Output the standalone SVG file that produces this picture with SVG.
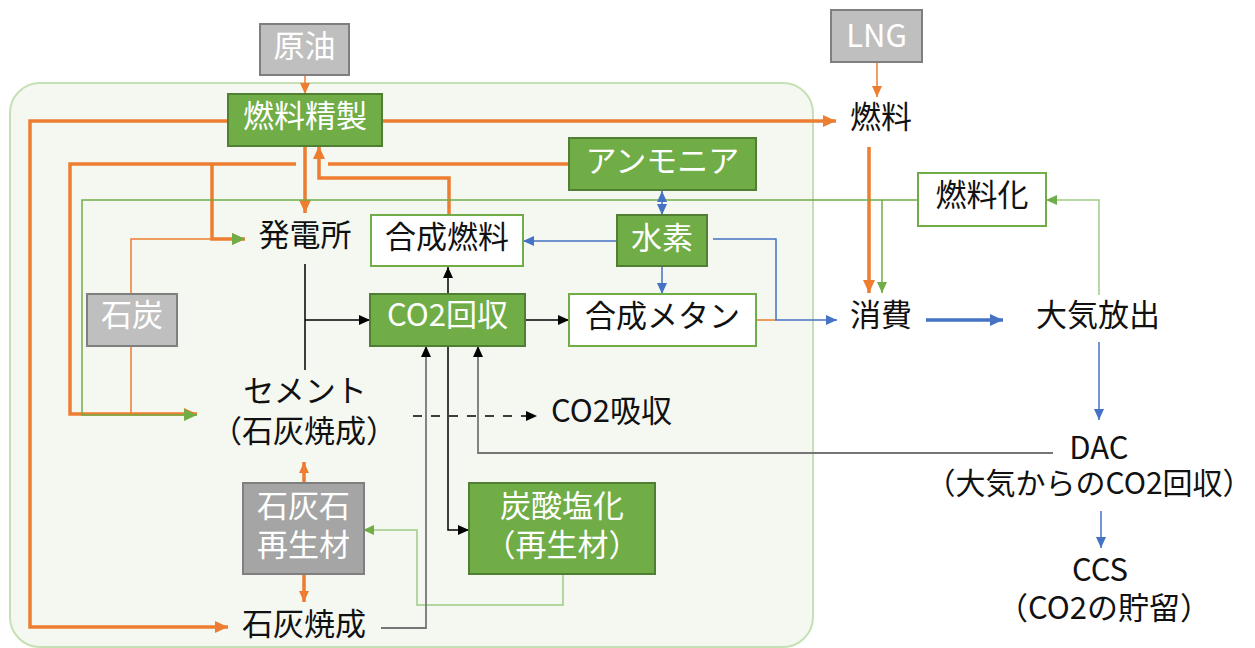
<svg xmlns="http://www.w3.org/2000/svg" width="1255" height="648" viewBox="0 0 1255 648">
<style>
text{font-family:"Noto Sans CJK JP","Noto Sans",sans-serif;font-size:31px;fill:#111;text-anchor:middle}
.w{fill:#fff}
.gbox{fill:#70ad47;stroke:#507e32;stroke-width:2}
.wbox{fill:#fff;stroke:#70ad47;stroke-width:2}
.grey{fill:#bfbfbf;stroke:#7f7f7f;stroke-width:2}
.dgrey{fill:#a5a5a5;stroke:#7f7f7f;stroke-width:2}
.c{fill:none}
.oT{stroke:#ed7d31;stroke-width:3.5}
.ot{stroke:#ed7d31;stroke-width:1.5}
.g{stroke:#70ad47;stroke-width:1.5}
.gl{stroke:#9fcc84;stroke-width:1.5}
.b{stroke:#4472c4;stroke-width:1.5}
.bT{stroke:#4472c4;stroke-width:3.5}
.k{stroke:#000;stroke-width:1.5}
.gr{stroke:#767676;stroke-width:1.8}
</style>
<defs>
<marker id="aO" markerUnits="userSpaceOnUse" markerWidth="14" markerHeight="14" refX="13" refY="7" orient="auto"><path d="M0,1 L13,7 L0,13 z" fill="#ed7d31"/></marker>
<marker id="aOs" markerUnits="userSpaceOnUse" markerWidth="12" markerHeight="12" refX="11" refY="6" orient="auto"><path d="M0,1 L11,6 L0,11 z" fill="#ed7d31"/></marker>
<marker id="aG" markerUnits="userSpaceOnUse" markerWidth="14" markerHeight="14" refX="13" refY="7" orient="auto"><path d="M0,1 L13,7 L0,13 z" fill="#70ad47"/></marker>
<marker id="aGs" markerUnits="userSpaceOnUse" markerWidth="12" markerHeight="12" refX="11" refY="6" orient="auto"><path d="M0,1 L11,6 L0,11 z" fill="#70ad47"/></marker>
<marker id="aB" markerUnits="userSpaceOnUse" markerWidth="12" markerHeight="12" refX="11" refY="6" orient="auto"><path d="M0,1 L11,6 L0,11 z" fill="#4472c4"/></marker>
<marker id="aBs" markerUnits="userSpaceOnUse" markerWidth="12" markerHeight="12" refX="0" refY="6" orient="auto"><path d="M11,1 L0,6 L11,11 z" fill="#4472c4"/></marker>
<marker id="aBT" markerUnits="userSpaceOnUse" markerWidth="14" markerHeight="14" refX="13" refY="7" orient="auto"><path d="M0,1 L13,7 L0,13 z" fill="#4472c4"/></marker>
<marker id="aK" markerUnits="userSpaceOnUse" markerWidth="12" markerHeight="12" refX="11" refY="6" orient="auto"><path d="M0,1 L11,6 L0,11 z" fill="#000"/></marker>
</defs>

<rect id="zone" x="10" y="83" width="803" height="564" rx="30" fill="#f4f8f1" stroke="#c5e0b4" stroke-width="2"/>

<g id="connectors" class="c">
<path class="c oT" d="M228,121 H30 V627 H228" marker-end="url(#aO)"/>
<path class="c oT" d="M382,121 H836" marker-end="url(#aO)"/>
<path class="c oT" d="M305,146 V213" marker-end="url(#aO)"/>
<path class="c oT" d="M449,215 V178 H319 V146" marker-end="url(#aO)"/>
<path class="c oT" d="M569,164 H328"/>
<path class="c oT" d="M296,164 H70 V414 H197" marker-end="url(#aO)"/>
<path class="c oT" d="M212,164 V239 H245" marker-end="url(#aO)"/>
<path class="c oT" d="M869,147 V293" marker-end="url(#aO)"/>
<path class="c oT" d="M304,483 V462" marker-end="url(#aOs)"/>
<path class="c oT" d="M304,574 V602" marker-end="url(#aOs)"/>
<path class="c ot" d="M305,75 V94" marker-end="url(#aOs)"/>
<path class="c ot" d="M877,62 V97" marker-end="url(#aOs)"/>
<path class="c ot" d="M131,294 V239 H245" marker-end="url(#aG)"/>
<path class="c ot" d="M131,346 V414"/>
<path class="c ot" d="M756,320 H776"/>
<path class="c g" d="M918,200 H82 V415 H197" marker-end="url(#aG)"/>
<path class="c g" d="M882,200 V293" marker-end="url(#aGs)"/>
<path class="c gl" d="M1099,295 V200 H1046" marker-end="url(#aGs)"/>
<path class="c gl" d="M563,574 V605 H417 V530 H363" marker-end="url(#aGs)"/>
<path class="c b" d="M662,191 V215" marker-start="url(#aBs)" marker-end="url(#aB)"/>
<path class="c b" d="M617,241 H523" marker-end="url(#aB)"/>
<path class="c b" d="M662,267 V294" marker-end="url(#aB)"/>
<path class="c b" d="M713,239 H776 V320 H837" marker-end="url(#aB)"/>
<path class="c bT" d="M926,320 H1003" marker-end="url(#aBT)"/>
<path class="c b" d="M1099,342 V420" marker-end="url(#aB)"/>
<path class="c b" d="M1101,511 V548" marker-end="url(#aB)"/>
<path class="c k" d="M305,264 V370"/>
<path class="c k" d="M305,320 H370" marker-end="url(#aK)"/>
<path class="c k" d="M526,320 H569" marker-end="url(#aK)"/>
<path class="c k" d="M448,294 V267" marker-end="url(#aK)"/>
<path class="c k" d="M448,346 V530 H469" marker-end="url(#aK)"/>
<path class="c gr" d="M1053,453 H478 V346" marker-end="url(#aK)"/>
<path class="c gr" d="M381,628 H426 V346" marker-end="url(#aK)"/>
<path class="c k" d="M413,416 H537" stroke-dasharray="9 9" marker-end="url(#aK)"/>
</g>

<g id="n-genyu"><rect class="grey" x="260" y="24" width="89" height="51"/><text class="w" x="304.5" y="57">原油</text></g>
<g id="n-seisei"><rect class="gbox" x="228" y="94" width="154" height="52"/><text class="w" x="305" y="127">燃料精製</text></g>
<g id="n-lng"><rect class="grey" x="831" y="10" width="91" height="52"/><text class="w" x="876.5" y="47">LNG</text></g>
<g id="n-nenryo"><text x="881" y="128">燃料</text></g>
<g id="n-ammonia"><rect class="gbox" x="569" y="138" width="187" height="52"/><text class="w" x="662.5" y="172">アンモニア</text></g>
<g id="n-nenryoka"><rect class="wbox" x="918" y="173" width="128" height="53"/><text x="982" y="206">燃料化</text></g>
<g id="n-hatsuden"><text x="305" y="246">発電所</text></g>
<g id="n-gosei"><rect class="wbox" x="371" y="215" width="152" height="51"/><text x="447" y="248">合成燃料</text></g>
<g id="n-suiso"><rect class="gbox" x="617" y="215" width="90" height="51"/><text class="w" x="662" y="249">水素</text></g>
<g id="n-sekitan"><rect class="grey" x="87" y="294" width="90" height="52"/><text class="w" x="132" y="326">石炭</text></g>
<g id="n-co2kaishu"><rect class="gbox" x="370" y="294" width="155" height="52"/><text class="w" x="447.5" y="326">CO2回収</text></g>
<g id="n-methane"><rect class="wbox" x="569" y="294" width="187" height="52"/><text x="662.5" y="327">合成メタン</text></g>
<g id="n-shohi"><text x="881" y="326">消費</text></g>
<g id="n-taiki"><text x="1098" y="326">大気放出</text></g>
<g id="n-cement"><text x="305" y="402">セメント</text><text x="304" y="442">（石灰焼成）</text></g>
<g id="n-co2kyushu"><text x="551" y="422" style="text-anchor:start">CO2吸収</text></g>
<g id="n-dac"><text x="1099" y="459">DAC</text><text x="1089" y="494" style="font-size:30px">（大気からのCO2回収）</text></g>
<g id="n-sekkaiseki"><rect class="dgrey" x="243" y="483" width="121" height="91"/><text class="w" x="303.5" y="517">石灰石</text><text class="w" x="303.5" y="556">再生材</text></g>
<g id="n-tansan"><rect class="gbox" x="469" y="483" width="186" height="91"/><text class="w" x="562" y="517">炭酸塩化</text><text class="w" x="562" y="556">（再生材）</text></g>
<g id="n-ccs"><text x="1100" y="581">CCS</text><text x="1104" y="619">（CO2の貯留）</text></g>
<g id="n-shokai"><text x="304" y="635">石灰焼成</text></g>
</svg>
